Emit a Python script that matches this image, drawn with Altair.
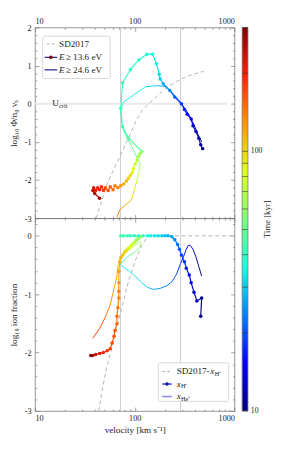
import altair as alt
import pandas as pd

FONT = "Liberation Serif"

# ---------------- data ----------------
# top panel, E >= 13.6 eV (points): velocity [km/s], log10 Phi/(n0 vs), time [kyr]
e136_v = [480, 459, 439, 411, 384, 368, 336, 315, 294, 252,
          225, 193, 180, 176, 165, 151, 132, 110, 90.5, 75.7,
          72.4, 75.7, 86.6, 118, 113, 110, 106, 101, 96.7, 94.6,
          90.5, 86.6, 82.8, 77.4, 72.4, 67.8, 63.4, 60.6, 56.8, 54.2,
          50.7, 48.5, 46.4, 44.4, 42.5, 40.6, 38.8, 38.0, 39.7, 44.4]
e136_y = [-1.175, -1.075, -0.9, -0.725, -0.575, -0.4, -0.275, -0.15, 0.0, 0.175,
          0.35, 0.525, 0.65, 0.775, 1.05, 1.3, 1.3, 1.15, 0.9, 0.55,
          -0.125, -0.6, -0.9, -1.25, -1.3, -1.375, -1.475, -1.575, -1.7, -1.8,
          -1.875, -1.95, -2.025, -2.1, -2.15, -2.2, -2.15, -2.25, -2.175, -2.275,
          -2.2, -2.275, -2.175, -2.25, -2.2, -2.275, -2.2, -2.275, -2.35, -2.475]
e136_t = [10, 10.8, 11.6, 12.5, 13.5, 14.5, 15.7, 17, 18.5, 21,
          24, 27, 30, 32, 34, 36, 37.5, 39, 40, 41,
          42.5, 44, 47, 58, 62, 66, 71, 76, 82, 88,
          95, 102, 110, 118, 126, 135, 142, 150, 158, 165,
          172, 180, 188, 196, 205, 215, 228, 240, 255, 270]

# top panel, E >= 24.6 eV (thin line)
e246_v = [469, 430, 393, 352, 315, 275, 236, 202, 172, 129, 77.4,
          72.4, 74.1, 79.2, 90.5, 103, 113, 110, 103, 92.5, 70.9, 66.3]
e246_y = [-1.0, -0.8, -0.55, -0.3, -0.1, 0.1, 0.3, 0.45, 0.475, 0.45, 0.05,
          -0.125, -0.5, -0.775, -1.05, -1.35, -1.575, -1.775, -2.1, -2.525, -2.775, -2.975]
e246_t = [10, 11.5, 13, 15, 17, 20, 23, 27, 31, 35, 38,
          40, 43, 46, 50, 55, 62, 75, 95, 118, 135, 150]

# top panel, SD2017
sdt_v = [41, 44, 53, 62, 72, 88, 103, 120, 138, 172, 215, 269, 336, 420, 491]
sdt_y = [-3.0, -2.75, -2.1, -1.7, -1.35, -0.85, -0.45, -0.15, 0.0, 0.23, 0.45, 0.6, 0.72, 0.8, 0.85]

# bottom panel, x_H+ (points)
xh_v = [459, 469, 420, 393, 368, 352, 329, 315, 294, 281,
        269, 252, 236, 215, 202, 188, 172, 158, 144, 135,
        121, 110, 98.9, 90.5, 84.7, 77.4, 72.4, 116, 108, 103,
        98.9, 94.6, 90.5, 86.6, 82.8, 79.2, 75.7, 72.4, 70.9, 69.3,
        69.3, 69.3, 69.3, 67.8, 66.3, 66.3, 63.4, 62.0, 59.3, 56.8,
        53.0, 48.5, 44.4, 40.6, 38.0, 36.3]
xh_y = [-1.377, -1.066, -1.115, -0.967, -0.803, -0.672, -0.557, -0.443, -0.328, -0.23,
        -0.148, -0.066, -0.016, 0, 0, 0, 0, 0, 0, 0,
        0, 0, 0, 0, 0, 0, 0, -0.016, -0.049, -0.082,
        -0.115, -0.148, -0.18, -0.213, -0.246, -0.279, -0.328, -0.377, -0.443, -0.607,
        -0.803, -0.951, -1.066, -1.23, -1.377, -1.508, -1.623, -1.721, -1.836, -1.934,
        -1.967, -2.0, -2.016, -2.033, -2.049, -2.049]
xh_t = [10, 11, 12, 13, 14, 15, 16.5, 18, 19.5, 21,
        22.5, 24, 26, 27.5, 29, 30.5, 32, 33.5, 35, 36.5,
        38, 39, 40, 41, 42, 43, 44, 55, 60, 65,
        70, 76, 82, 88, 94, 100, 107, 114, 120, 125,
        130, 135, 140, 145, 150, 155, 160, 165, 170, 178,
        188, 200, 215, 235, 260, 290]

# bottom panel, x_He+ (thin line)
xhe_v = [469, 439, 411, 384, 360, 345, 329, 308, 288, 263,
         236, 211, 180, 154, 135, 118, 103, 88.5, 75.7, 72.4,
         77.4, 84.7, 94.6, 103, 113, 116, 113, 103, 92.5, 82.8,
         75.7, 70.9, 67.8, 66.3, 62.0, 56.8, 50.7, 44.4, 38.0]
xhe_y = [-0.689, -0.525, -0.36, -0.23, -0.164, -0.164, -0.23, -0.36, -0.475, -0.656,
         -0.787, -0.852, -0.9, -0.918, -0.885, -0.803, -0.705, -0.607, -0.525, -0.49,
         -0.426, -0.36, -0.311, -0.262, -0.197, -0.131, -0.1, -0.148, -0.213, -0.279,
         -0.344, -0.41, -0.525, -0.689, -0.902, -1.18, -1.393, -1.59, -1.754]
xhe_t = [10, 11, 12, 13, 14, 15, 16, 17, 18.5, 20,
         22, 24, 26, 28, 30, 32, 34, 36, 38, 40,
         44, 48, 52, 55, 58, 61, 64, 68, 75, 85,
         95, 105, 112, 120, 130, 145, 160, 180, 210]

# bottom panel, SD2017 x_H+
sdb_v = [43.5, 47.5, 51.9, 60.6, 72.4, 88.5, 103, 118, 135, 148, 950]
sdb_y = [-3.0, -2.62, -2.28, -1.84, -1.3, -0.72, -0.39, -0.16, -0.02, 0.0, 0.0]

# reference lines
vline_v = [72, 288]
ucrit_v = [10, 850]
ucrit_y = [0, 0]

# axis ticks
MAJ_X = [10, 100, 1000]
MIN_X = [20, 30, 40, 50, 60, 70, 80, 90, 200, 300, 400, 500, 600, 700, 800, 900]
MAJ_YT = [-3, -2, -1, 0, 1, 2]
MIN_YT = [round(i * 0.2, 1) for i in range(-15, 11) if i % 5 != 0]
MAJ_YB = [-3, -2, -1, 0]
MIN_YB = [round(i * 0.2, 1) for i in range(-15, 2) if i % 5 != 0]

# colour bar (jet) on log time axis 10..300 kyr
JET = ["#000080", "#0000ff", "#0080ff", "#14ffe2", "#7bff7b",
       "#e2ff14", "#ff9700", "#ff2100", "#800000"]
T_LO, T_HI = 10, 300
cb_ticks = [10, 20, 30, 40, 50, 60, 70, 80, 90, 100, 200, 300]
cb_labels = [10, 100]

H_TOP, H_BOT, W = 198, 200, 207


def segs(v, y, t):
    df = pd.DataFrame({"v": v, "y": y, "t": t})
    df["v2"] = df["v"].shift(-1)
    df["y2"] = df["y"].shift(-1)
    return df.iloc[:-1].reset_index(drop=True)


def pts(v, y, t=None):
    d = {"v": v, "y": y}
    if t is not None:
        d["t"] = t
    return pd.DataFrame(d)


# piecewise log colour scale: equal log steps between the jet anchor colours
CDOM = [T_LO * (T_HI / T_LO) ** (k / 8) for k in range(9)]
CSCALE = alt.Scale(type="log", domain=CDOM, range=JET, interpolate="rgb")
CENC = alt.Color("t:Q", scale=CSCALE, legend=None)

XS = alt.Scale(type="log", domain=[10, 1000], nice=False)
YT = alt.Scale(domain=[-3, 2], nice=False, zero=False)
YB = alt.Scale(domain=[-3, 0.3], nice=False, zero=False)
CBH = H_TOP + H_BOT  # colour bar spans both panels
CBY = alt.Scale(type="log", domain=[T_LO, T_HI], range=[CBH, 0], nice=False)
NEG = "datum.value < 0 ? '-' + (-datum.value) : '' + datum.value"


def ax(orient, values, size, labels=False, title=None, tpad=4, fmt=None, lexpr=None, lpad=4):
    kw = dict(orient=orient, values=values, tickSize=size, offset=-size, domain=False,
              grid=False, labels=labels, title=title, tickColor="#666", tickWidth=0.6)
    if labels:
        kw.update(labelPadding=lpad, labelFont=FONT, labelFontSize=8.5, labelColor="#222")
    if fmt:
        kw["format"] = fmt
    if lexpr:
        kw["labelExpr"] = lexpr
    if title:
        kw.update(titleFont=FONT, titleFontSize=9.5, titleFontWeight="normal",
                  titleColor="#222", titlePadding=tpad)
    return alt.Axis(**kw)


ONE = pd.DataFrame({"k": [0]})


def hline(x1, x2, y, color, width=1.0, dash=None):
    kw = dict(color=color, strokeWidth=width)
    if dash:
        kw["strokeDash"] = dash
    return alt.Chart(ONE).mark_rule(**kw).encode(x=alt.value(x1), x2=alt.value(x2), y=alt.value(y))


def label(x, y, s, size=9.5, italic=False, dy=0, angle=0, align="left"):
    kw = dict(text=s, font=FONT, fontSize=size, color="#222", align=align, baseline="middle", dy=dy)
    if italic:
        kw["fontStyle"] = "italic"
    if angle:
        kw["angle"] = angle
    return alt.Chart(ONE).mark_text(**kw).encode(x=alt.value(x), y=alt.value(y))


def dot(x, y, color, size=14):
    return alt.Chart(ONE).mark_circle(size=size, opacity=1, color=color).encode(x=alt.value(x), y=alt.value(y))


def box(x1, x2, y1, y2):
    return alt.Chart(ONE).mark_rect(fill="white", stroke="#cccccc", strokeWidth=0.8,
                                     cornerRadius=2).encode(
        x=alt.value(x1), x2=alt.value(x2), y=alt.value(y1), y2=alt.value(y2))


# ---------------- top panel ----------------
t_vl = alt.Chart(pts(vline_v, [0, 0])).mark_rule(color="#c9c9c9", strokeWidth=0.9).encode(
    x=alt.X("v:Q", scale=XS, axis=ax("top", MAJ_X, 4, labels=True, fmt="d", lpad=2)))
t_uc = alt.Chart(pd.DataFrame({"v": [ucrit_v[0]], "v2": [ucrit_v[1]], "y": [ucrit_y[0]]})).mark_rule(
    color="#e9e9e9", strokeWidth=2).encode(
    x=alt.X("v:Q", scale=XS, axis=ax("top", MIN_X, 2)), x2="v2:Q",
    y=alt.Y("y:Q", scale=YT, axis=ax("left", MAJ_YT, 4, labels=True, title="log₁₀ Φ/n₀ vₛ",
                                     tpad=6, lexpr=NEG)))
t_sd = alt.Chart(pts(sdt_v, sdt_y)).mark_line(color="#aaaaaa", strokeDash=[4, 3], strokeWidth=0.9).encode(
    x=alt.X("v:Q", scale=XS, axis=ax("bottom", MAJ_X, 4)),
    y=alt.Y("y:Q", scale=YT, axis=ax("left", MIN_YT, 2)))
t_b = alt.Chart(segs(e246_v, e246_y, e246_t)).mark_rule(strokeWidth=1).encode(
    x=alt.X("v:Q", scale=XS, axis=ax("bottom", MIN_X, 2)), x2="v2:Q",
    y=alt.Y("y:Q", scale=YT, axis=ax("right", MAJ_YT, 4)), y2="y2:Q", color=CENC)
t_as = alt.Chart(segs(e136_v, e136_y, e136_t)).mark_rule(strokeWidth=1.2).encode(
    x=alt.X("v:Q", scale=XS, axis=None), x2="v2:Q",
    y=alt.Y("y:Q", scale=YT, axis=ax("right", MIN_YT, 2)), y2="y2:Q", color=CENC)
t_ap = alt.Chart(pts(e136_v, e136_y, e136_t)).mark_circle(size=13, opacity=1).encode(
    x=alt.X("v:Q", scale=XS, axis=None), y=alt.Y("y:Q", scale=YT, axis=None), color=CENC)

t_leg = [
    box(8, 78, 9, 53),
    hline(12, 22, 17, "#aaaaaa", 0.9, [3, 2]),
    label(25, 17, "SD2017"),
    hline(10, 23, 31, "#1a1a8c", 1.2),
    dot(16.5, 31, "#800000"),
    label(25, 31, "E", italic=True),
    label(32, 31, "≥ 13.6 eV"),
    hline(10, 23, 44, "#1a1a8c", 1.2),
    label(25, 44, "E", italic=True),
    label(32, 44, "≥ 24.6 eV"),
    label(18, 79, "U"),
    label(25, 79, "crit", size=6.5, dy=3),
]

# colour bar (drawn alongside the top panel, spanning both panels)
GRAD = {"gradient": "linear", "x1": 0, "x2": 0, "y1": 1, "y2": 0,
        "stops": [{"offset": k / 8, "color": JET[k]} for k in range(9)]}
CBX0, CBX1 = 215, 221
cb_bar = alt.Chart(ONE).mark_rect(fill=GRAD, stroke="#777777", strokeWidth=0.8).encode(
    x=alt.value(CBX0), x2=alt.value(CBX1), y=alt.value(0), y2=alt.value(CBH))
cb_tk = alt.Chart(pd.DataFrame({"t": cb_ticks})).mark_rule(color="#333333", strokeWidth=0.6).encode(
    y=alt.Y("t:Q", scale=CBY, axis=None), x=alt.value(CBX0), x2=alt.value(CBX1))
cb_lb = alt.Chart(pd.DataFrame({"t": cb_labels})).mark_text(
    font=FONT, fontSize=8, color="#222", align="left", baseline="middle").encode(
    y=alt.Y("t:Q", scale=CBY, axis=None), x=alt.value(CBX1 + 3), text=alt.Text("t:Q", format="d"))
cb_title = label(241, CBH / 2, "Time [kyr]", size=9, angle=270, align="center")

top = alt.layer(t_vl, t_uc, t_sd, t_b, t_as, t_ap, *t_leg, cb_bar, cb_tk, cb_lb, cb_title).resolve_axis(
    x="independent", y="independent").resolve_scale(y="independent").properties(width=W, height=H_TOP)

# ---------------- bottom panel ----------------
b_vl = alt.Chart(pts(vline_v, [0, 0])).mark_rule(color="#c9c9c9", strokeWidth=0.9).encode(
    x=alt.X("v:Q", scale=XS, axis=ax("bottom", MAJ_X, 4, labels=True, fmt="d", lpad=3,
                                     title="velocity [km s⁻¹]", tpad=3)))
b_sd = alt.Chart(pts(sdb_v, sdb_y)).mark_line(color="#aaaaaa", strokeDash=[4, 3], strokeWidth=0.9).encode(
    x=alt.X("v:Q", scale=XS, axis=ax("bottom", MIN_X, 2)),
    y=alt.Y("y:Q", scale=YB, axis=ax("left", MAJ_YB, 4, labels=True, title="log₁₀ ion fraction",
                                     tpad=6, lexpr=NEG)))
b_he = alt.Chart(segs(xhe_v, xhe_y, xhe_t)).mark_rule(strokeWidth=1).encode(
    x=alt.X("v:Q", scale=XS, axis=ax("top", MAJ_X, 4)), x2="v2:Q",
    y=alt.Y("y:Q", scale=YB, axis=ax("left", MIN_YB, 2)), y2="y2:Q", color=CENC)
b_hs = alt.Chart(segs(xh_v, xh_y, xh_t)).mark_rule(strokeWidth=1.2).encode(
    x=alt.X("v:Q", scale=XS, axis=ax("top", MIN_X, 2)), x2="v2:Q",
    y=alt.Y("y:Q", scale=YB, axis=ax("right", MAJ_YB, 4)), y2="y2:Q", color=CENC)
b_hp = alt.Chart(pts(xh_v, xh_y, xh_t)).mark_circle(size=13, opacity=1).encode(
    x=alt.X("v:Q", scale=XS, axis=None),
    y=alt.Y("y:Q", scale=YB, axis=ax("right", MIN_YB, 2)), color=CENC)

b_leg = [
    box(128, 201, 150, 190),
    hline(132, 142, 159, "#aaaaaa", 0.9, [3, 2]),
    label(147, 159, "SD2017-"),
    label(182, 159, "x", italic=True),
    label(186.5, 159, "H⁺", size=6.5, dy=2.5),
    hline(132, 142, 172, "#1010c0", 1.2),
    dot(137, 172, "#1010c0"),
    label(147, 172, "x", italic=True),
    label(151.5, 172, "H⁺", size=6.5, dy=2.5),
    hline(132, 142, 185, "#8a8ae6", 1.6),
    label(147, 185, "x", italic=True),
    label(151.5, 185, "He⁺", size=6.5, dy=2.5),
]

bottom = alt.layer(b_vl, b_sd, b_he, b_hs, b_hp, *b_leg).resolve_axis(
    x="independent", y="independent").properties(width=W, height=H_BOT)

chart = alt.vconcat(top, bottom, spacing=0, bounds="flush", padding=0).configure_view(
    stroke="#777777", strokeWidth=0.8)

chart.save("out.html", embed_options={"renderer": "svg", "actions": False})
